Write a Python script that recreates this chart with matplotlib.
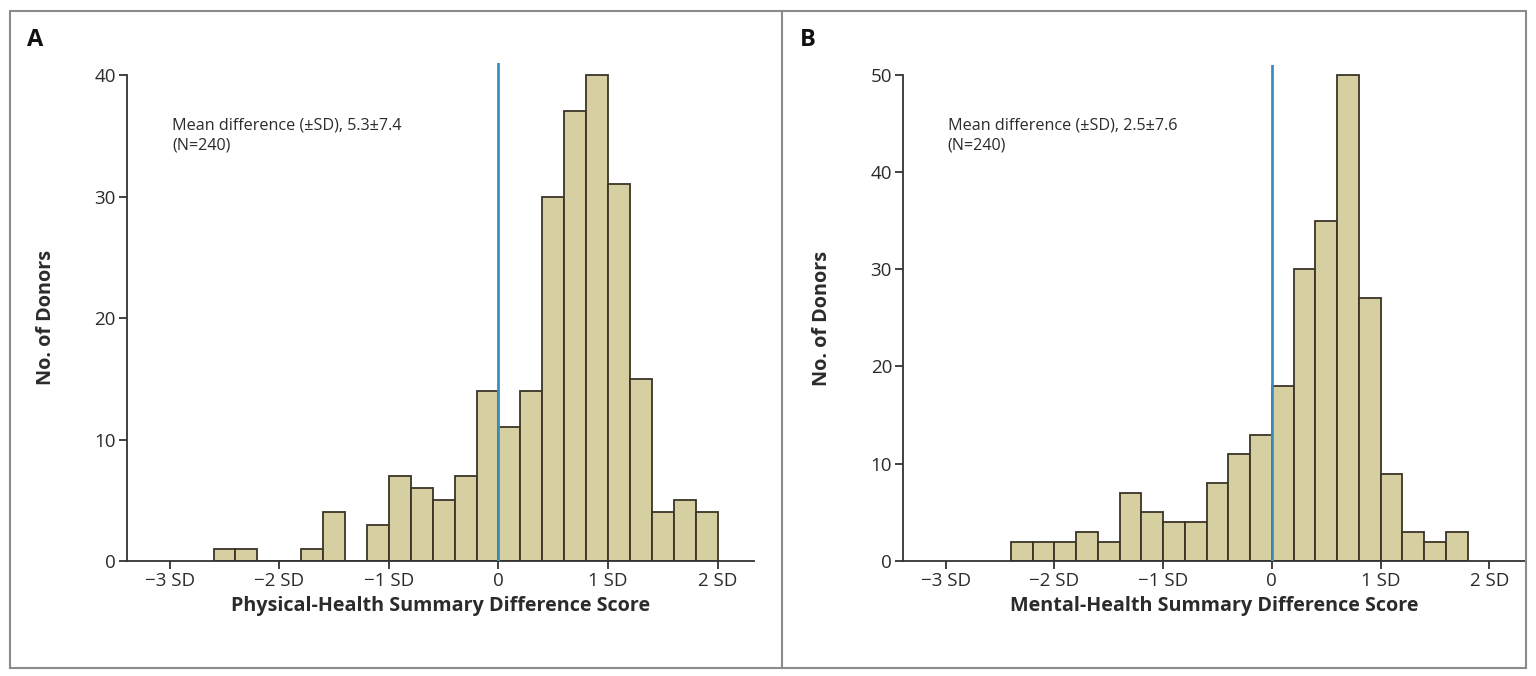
import numpy as np
import matplotlib
matplotlib.use("Agg")
import matplotlib.pyplot as plt
from matplotlib.patches import Rectangle
from matplotlib.lines import Line2D

plt.rcParams['font.family'] = ['Open Sans', 'DejaVu Sans']

phys_left = -2.6
phys_counts = [1, 1, 0, 0, 1, 4, 0, 3, 7, 6, 5, 7, 14, 11, 14, 30, 37, 40, 31, 15, 4, 5, 4]
ment_left = -2.4
ment_counts = [2, 2, 2, 3, 2, 7, 5, 4, 4, 8, 11, 13, 18, 30, 35, 50, 27, 9, 3, 2, 3]
bin_w = 0.2

sd_ticks = [-3, -2, -1, 0, 1, 2]
sd_labels = ["\u22123 SD", "\u22122 SD", "\u22121 SD", "0", "1 SD", "2 SD"]

panels = [
    dict(letter="A", left=phys_left, counts=phys_counts, yticks=[0, 10, 20, 30, 40],
         ytop=41, note="Mean difference (\u00b1SD), 5.3\u00b17.4\n(N=240)",
         xlabel="Physical-Health Summary Difference Score", note_y=36.5),
    dict(letter="B", left=ment_left, counts=ment_counts, yticks=[0, 10, 20, 30, 40, 50],
         ytop=51, note="Mean difference (\u00b1SD), 2.5\u00b17.6\n(N=240)",
         xlabel="Mental-Health Summary Difference Score", note_y=45.6),
]

FILL = "#d6cfa2"
EDGE = "#3b3427"
BLUE = "#3b8ec0"
TXT = "#2b2b2b"

fig = plt.figure(figsize=(15.36, 6.76), dpi=100)

axes_pos = [[0.0827, 0.170, 0.408, 0.737], [0.588, 0.170, 0.405, 0.734]]

for p, pos in zip(panels, axes_pos):
    ax = fig.add_axes(pos)
    edges = p["left"] + bin_w * np.arange(len(p["counts"]))
    ax.bar(edges, p["counts"], width=bin_w, align="edge", color=FILL,
           edgecolor=EDGE, linewidth=1.3, zorder=2)
    ax.axvline(0, color=BLUE, linewidth=2, zorder=3)
    ax.set_xlim(-3.39, 2.33)
    ax.set_ylim(0, p["ytop"])
    for s in ["top", "right"]:
        ax.spines[s].set_visible(False)
    ax.spines["left"].set_bounds(0, p["yticks"][-1])
    for s in ["left", "bottom"]:
        ax.spines[s].set_color("#333333")
        ax.spines[s].set_linewidth(1.3)
    ax.set_xticks(sd_ticks)
    ax.set_xticklabels(sd_labels)
    ax.set_yticks(p["yticks"])
    ax.tick_params(axis="both", direction="out", length=6, width=1.3,
                   color="#333333", labelsize=13.5, labelcolor=TXT, pad=2)
    ax.set_ylabel("No. of Donors", fontsize=14.3, fontweight="bold", color=TXT)
    ax.yaxis.set_label_coords(-0.114, 0.49)
    ax.set_xlabel(p["xlabel"], fontsize=14.2, fontweight="bold", color=TXT, labelpad=4)
    ax.text(-2.98, p["note_y"], p["note"], fontsize=11.6, color=TXT, va="top",
            ha="left", linespacing=1.35)

fig.text(0.0176, 0.932, "A", fontsize=17, fontweight="bold", color="#111111")
fig.text(0.521, 0.932, "B", fontsize=17, fontweight="bold", color="#111111")

# outer frame and divider
fig.patches.append(Rectangle((0.0065, 0.012), 0.987, 0.972, transform=fig.transFigure,
                             fill=False, edgecolor="#8a8a8a", linewidth=1.5))
fig.lines.append(Line2D([0.5088, 0.5088], [0.012, 0.984], transform=fig.transFigure,
                        color="#8a8a8a", linewidth=1.5))

fig.savefig("out.png", dpi=100, facecolor="white")
